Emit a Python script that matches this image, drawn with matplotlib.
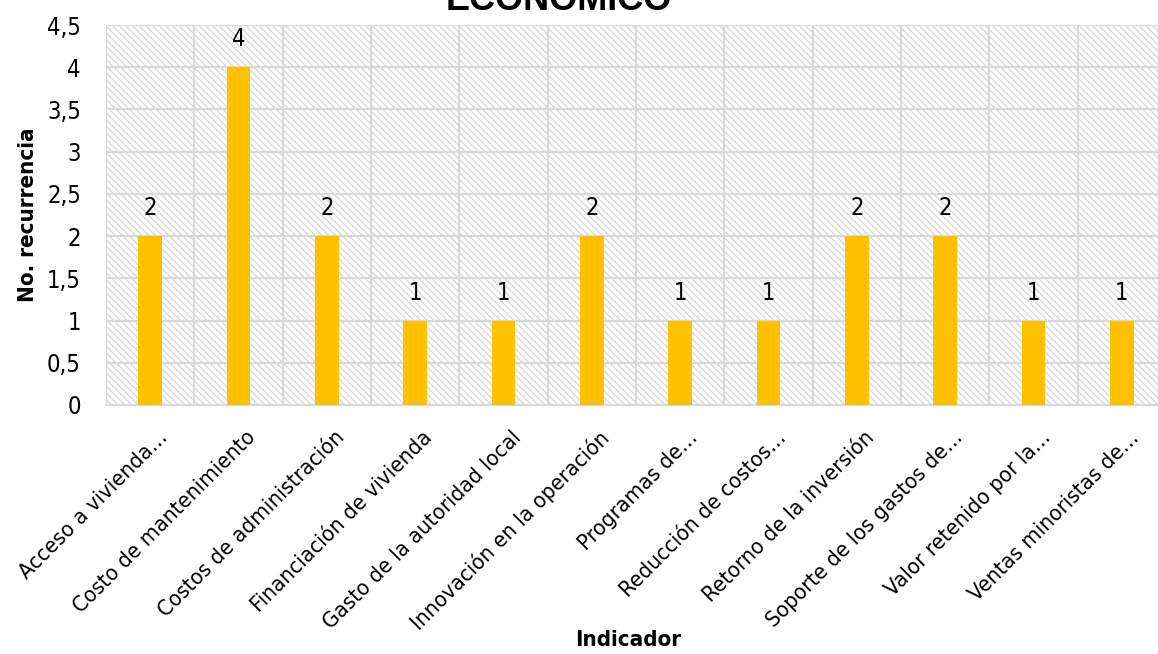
import matplotlib
matplotlib.use('Agg')
import matplotlib.pyplot as plt
from matplotlib.patches import Rectangle
import numpy as np

indicadores = [
    'Acceso a vivienda…',
    'Costo de mantenimiento',
    'Costos de administración',
    'Financiación de vivienda',
    'Gasto de la autoridad local',
    'Innovación en la operación',
    'Programas de…',
    'Reducción de costos…',
    'Retorno de la inversión',
    'Soporte de los gastos de…',
    'Valor retenido por la…',
    'Ventas minoristas de…',
]
recurrencia = [2, 4, 2, 1, 1, 2, 1, 1, 2, 2, 1, 1]
yticks = [0, 0.5, 1, 1.5, 2, 2.5, 3, 3.5, 4, 4.5]
ytick_labels = ['0', '0,5', '1', '1,5', '2', '2,5', '3', '3,5', '4', '4,5']

narrow = ['DejaVu Sans', 'Roboto']
grid_col = '#d9d9d9'
plt.rcParams['hatch.linewidth'] = 0.9

fig = plt.figure(figsize=(11.58, 6.54), dpi=100)
ax = fig.add_axes([106 / 1158, 1 - 405 / 654, 1060 / 1158, 380 / 654])

x = np.arange(len(indicadores))
ax.set_xlim(-0.5, len(indicadores) - 0.5)
ax.set_ylim(0, 4.5)

# hatched plot area background
bg = Rectangle((0, 0), 1, 1, transform=ax.transAxes, facecolor='white',
               edgecolor='#d6d6d6', hatch='\\\\\\\\\\', linewidth=0, zorder=0)
ax.add_patch(bg)

# grid: horizontal at ticks, vertical between categories
for yv in yticks:
    ax.axhline(yv, color=grid_col, lw=1.6, zorder=1)
for xv in np.arange(-0.5, len(indicadores) + 0.5, 1):
    ax.axvline(xv, color=grid_col, lw=1.6, zorder=1)

bars = ax.bar(x, recurrencia, width=0.27, color='#FFC000', zorder=3)
for xi, v in zip(x, recurrencia):
    ax.text(xi, v + 0.19, str(v), ha='center', va='bottom',
            fontsize=17, family=narrow, fontstretch='condensed', zorder=4)

for s in ['top', 'right', 'left']:
    ax.spines[s].set_visible(False)
ax.spines['bottom'].set_color(grid_col)
ax.spines['bottom'].set_linewidth(1.6)

ax.set_yticks(yticks)
ax.set_yticklabels(ytick_labels, fontsize=17, family=narrow, fontstretch='condensed')
ax.set_xticks(x + 0.08)
ax.set_xticklabels(indicadores, rotation=45, ha='right', rotation_mode='anchor',
                   fontsize=16, family=narrow, fontstretch='condensed')
ax.tick_params(axis='y', length=0, pad=18)
ax.tick_params(axis='x', length=0, pad=16)

fig.text(28 / 1158, 1 - 215 / 654, 'No. recurrencia', rotation=90, ha='center',
         va='center', fontsize=16, fontweight='bold', family=narrow,
         fontstretch='condensed')
fig.text(628 / 1158, 1 - 640 / 654, 'Indicador', ha='center', va='center',
         fontsize=16, fontweight='bold', family=narrow, fontstretch='condensed')
fig.text(559 / 1158, 1 - 10 / 654, 'ECONÓMICO', ha='center', va='baseline',
         fontsize=26, fontweight='bold', family=['Liberation Sans', 'DejaVu Sans'])

fig.savefig('out.png', dpi=100)
